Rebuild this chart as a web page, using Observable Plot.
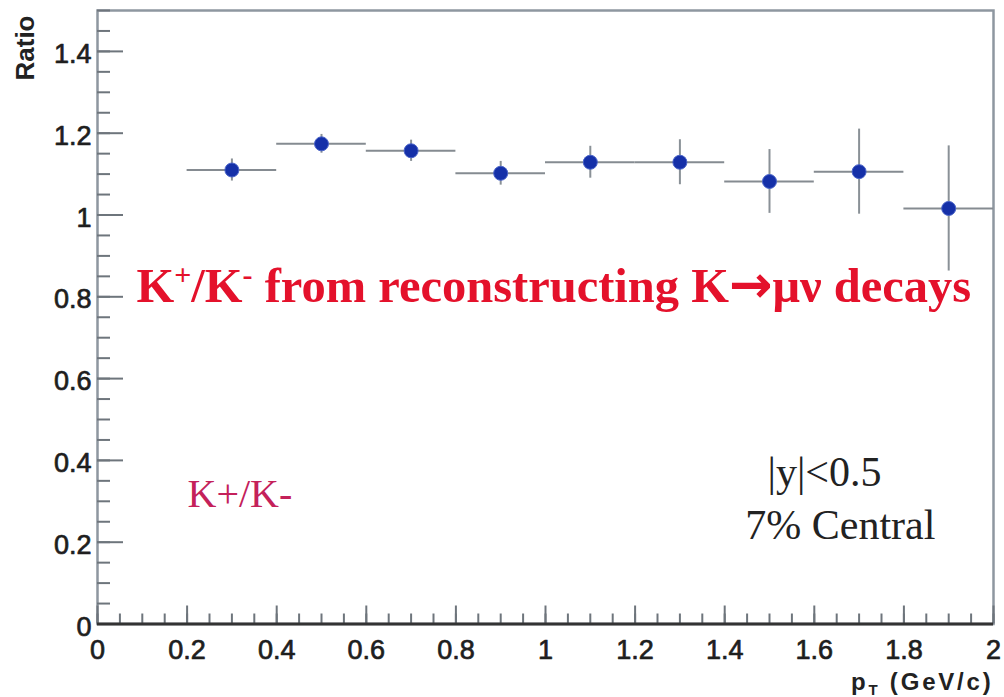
<!DOCTYPE html>
<html>
<head>
<meta charset="utf-8">
<script src="https://cdn.jsdelivr.net/npm/d3@7"></script>
<script src="https://cdn.jsdelivr.net/npm/@observablehq/plot@0.6"></script>
<style>
  html, body { margin: 0; padding: 0; background: #fff; }
  svg { display: block; }
</style>
</head>
<body>
<div id="chart"></div>
<script>
// ---- data ----
const ptCenters = [0.3, 0.5, 0.7, 0.9, 1.1, 1.3, 1.5, 1.7, 1.9];
const ptHalfWidth = [0.1, 0.1, 0.1, 0.1, 0.1, 0.1, 0.1, 0.1, 0.1];
const ratioValues = [1.110, 1.174, 1.157, 1.102, 1.129, 1.129, 1.082, 1.106, 1.016];
const ratioErrors = [0.027, 0.023, 0.026, 0.029, 0.039, 0.055, 0.078, 0.104, 0.153];

const xTicks = [0, 0.2, 0.4, 0.6, 0.8, 1, 1.2, 1.4, 1.6, 1.8, 2];
const xTickLabels = ["0", "0.2", "0.4", "0.6", "0.8", "1", "1.2", "1.4", "1.6", "1.8", "2"];
const yTicks = [0, 0.2, 0.4, 0.6, 0.8, 1, 1.2, 1.4];
const yTickLabels = ["0", "0.2", "0.4", "0.6", "0.8", "1", "1.2", "1.4"];
const xMinorTicks = d3.range(0, 2.0001, 0.05);
const yMinorTicks = d3.range(0, 1.5001, 0.05);

// [text, level (1 = superscript, -1 = subscript, 0 = normal), special font]
const titleParts = [["K", 0], ["+", 1], ["/K", 0], ["-", 1], [" from reconstructing K", 0], ["\u2192", 0, "arrow"], ["\u03bc\u03bd decays", 0]];
const xLabelParts = [["p", 0], ["T", -1], [" (GeV/c)", 0]];
const yLabel = "Ratio";
const legendNote = "K+/K-";
const cutNote = "|y|<0.5";
const centralityNote = "7% Central";

const points = ptCenters.map((x, i) => ({
  x, hw: ptHalfWidth[i], r: ratioValues[i], e: ratioErrors[i]
}));

const xLabelMap = new Map(xTicks.map((t, i) => [t, xTickLabels[i]]));
const yLabelMap = new Map(yTicks.map((t, i) => [t, yTickLabels[i]]));

const axisFont = "Liberation Sans, Arial, Helvetica, sans-serif";
const serif = "Liberation Serif, Times New Roman, serif";
const tickColor = "#6e757c";
const titleString = titleParts.map(p => p[0]).join("");
const xLabelString = xLabelParts.map(p => p[0]).join("");

const plot = Plot.plot({
  width: 1004,
  height: 697,
  marginLeft: 97,
  marginRight: 11,
  marginTop: 10,
  marginBottom: 73.5,
  x: { domain: [0, 2] },
  y: { domain: [0, 1.5] },
  style: { background: "#fff", fontFamily: axisFont },
  marks: [
    // frame
    Plot.frame({ stroke: "#8e97a0", strokeWidth: 2.5 }),
    // inner ticks
    Plot.axisY(yMinorTicks, { tickSize: -13, fill: "none", stroke: tickColor, strokeWidth: 2 }),
    Plot.axisY(yTicks, { tickSize: -26, fill: "none", stroke: tickColor, strokeWidth: 2 }),
    Plot.axisX(xMinorTicks, { tickSize: -10, fill: "none", stroke: tickColor, strokeWidth: 2 }),
    Plot.axisX(xTicks, { tickSize: -18, fill: "none", stroke: tickColor, strokeWidth: 2 }),
    // tick labels
    Plot.axisY(yTicks, {
      tickSize: 0, tickPadding: 6, label: null, dy: 3,
      tickFormat: d => yLabelMap.get(d),
      fontSize: 27, fontFamily: axisFont, fill: "#1e1e1e",
      textStroke: "#1e1e1e", textStrokeWidth: 0.7
    }),
    Plot.axisX(xTicks, {
      tickSize: 0, tickPadding: 16, label: null,
      tickFormat: d => xLabelMap.get(d),
      fontSize: 27, fontFamily: axisFont, fill: "#1e1e1e",
      textStroke: "#1e1e1e", textStrokeWidth: 0.7
    }),
    // bottom axis line
    Plot.ruleY([0], { stroke: "#333", strokeWidth: 3 }),
    // axis titles
    Plot.text([yLabel], {
      text: d => d, frameAnchor: "top-left", rotate: -90, textAnchor: "end",
      lineAnchor: "bottom", dx: -64, dy: 5,
      fontSize: 26, fontWeight: "bold", fontFamily: axisFont, fill: "#222"
    }),
    Plot.text([xLabelString], {
      text: d => d, frameAnchor: "bottom-right", textAnchor: "end",
      lineAnchor: "bottom", dy: 66, fontSize: 24, fontWeight: "bold",
      fontFamily: axisFont, fill: "#222"
    }),
    // error bars
    Plot.ruleY(points, { y: "r", x1: d => d.x - d.hw, x2: d => d.x + d.hw, stroke: "#858b91", strokeWidth: 2 }),
    Plot.ruleX(points, { x: "x", y1: d => d.r - d.e, y2: d => d.r + d.e, stroke: "#8a9197", strokeWidth: 2 }),
    // markers
    Plot.dot(points, { x: "x", y: "r", r: 7, fill: "#1530a8", stroke: "#4a64c8", strokeWidth: 1 }),
    // annotations
    Plot.text([titleString], {
      text: d => d, x: 0.087, y: 0.787, textAnchor: "start", lineAnchor: "bottom",
      fontSize: 48.5, fontWeight: "bold", fontFamily: serif, fill: "#e4112b"
    }),
    Plot.text([legendNote], {
      text: d => d, x: 0.201, y: 0.285, textAnchor: "start", lineAnchor: "bottom",
      fontSize: 40, fontFamily: serif, fill: "#c4215a"
    }),
    Plot.text([cutNote], {
      text: d => d, x: 1.4955, y: 0.3366, textAnchor: "start", lineAnchor: "bottom",
      fontSize: 42, fontFamily: serif, fill: "#222"
    }),
    Plot.text([centralityNote], {
      text: d => d, x: 1.446, y: 0.207, textAnchor: "start", lineAnchor: "bottom",
      fontSize: 42, fontFamily: serif, fill: "#222"
    })
  ]
});

// rich text: superscripts / subscripts
function richText(sel, parts, small, shift, arrowStyle) {
  sel.each(function () {
    const t = d3.select(this);
    t.text(null);
    let cur = 0;
    for (const [s, lvl, special] of parts) {
      const target = lvl === 1 ? -shift : lvl === -1 ? shift * 0.6 : 0;
      const ts = t.append("tspan").attr("dy", target - cur).text(s);
      if (lvl !== 0) ts.attr("font-size", small);
      if (special === "arrow" && arrowStyle) {
        ts.attr("font-family", arrowStyle.family).attr("font-size", arrowStyle.size).attr("font-weight", "bold");
      }
      cur = target;
    }
  });
}
const svg = d3.select(plot);
const byContent = s => svg.selectAll("text").filter(function () { return this.textContent === s; });
richText(byContent(titleString), titleParts, 30, 17, { family: "DejaVu Sans", size: 52 });
const xl = byContent(xLabelString);
richText(xl, xLabelParts, 15, 9);
xl.attr("letter-spacing", 2.8);

document.getElementById("chart").appendChild(plot);
</script>
</body>
</html>
